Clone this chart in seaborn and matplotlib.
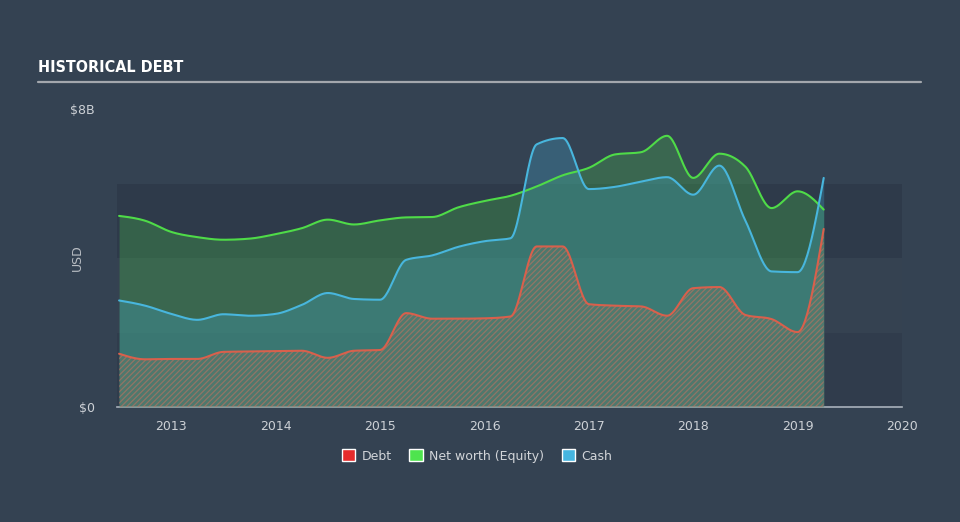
import numpy as np
import pandas as pd
import matplotlib
matplotlib.use("Agg")
import matplotlib.pyplot as plt
from matplotlib.patches import Patch
import seaborn as sns

# ---- data (USD billions), quarterly ----
dates = [2012.5, 2012.75, 2013.0, 2013.25, 2013.5, 2013.75, 2014.0, 2014.25,
         2014.5, 2014.75, 2015.0, 2015.25, 2015.5, 2015.75, 2016.0, 2016.25,
         2016.5, 2016.75, 2017.0, 2017.25, 2017.5, 2017.75, 2018.0, 2018.25,
         2018.5, 2018.75, 2019.0, 2019.25]
debt = [1.43, 1.28, 1.29, 1.29, 1.48, 1.49, 1.50, 1.51,
        1.32, 1.51, 1.53, 2.52, 2.37, 2.37, 2.38, 2.43,
        4.31, 4.31, 2.76, 2.72, 2.70, 2.45, 3.19, 3.22,
        2.47, 2.36, 2.01, 4.78]
equity = [5.13, 5.00, 4.70, 4.56, 4.49, 4.52, 4.64, 4.80,
          5.03, 4.90, 5.01, 5.09, 5.10, 5.36, 5.53, 5.67,
          5.92, 6.22, 6.42, 6.78, 6.84, 7.28, 6.15, 6.80,
          6.45, 5.34, 5.79, 5.30]
cash = [2.86, 2.72, 2.50, 2.34, 2.49, 2.45, 2.50, 2.74,
        3.06, 2.90, 2.88, 3.95, 4.07, 4.30, 4.45, 4.53,
        7.05, 7.22, 5.85, 5.91, 6.05, 6.17, 5.70, 6.48,
        5.00, 3.64, 3.62, 6.15]
year_ticks = [2013, 2014, 2015, 2016, 2017, 2018, 2019, 2020]
y_labels = {0: "$0", 8: "$8B"}
series_names = ["Debt", "Net worth (Equity)", "Cash"]


def monotone(x, y, n=24):
    """Monotone cubic (d3 curveMonotoneX style) rendering of a polyline."""
    x = np.asarray(x, float)
    y = np.asarray(y, float)
    h = np.diff(x)
    s = np.diff(y) / h
    m = np.zeros_like(y)
    for i in range(1, len(y) - 1):
        s0, s1, h0, h1 = s[i - 1], s[i], h[i - 1], h[i]
        p = (s0 * h1 + s1 * h0) / (h0 + h1)
        m[i] = (np.sign(s0) + np.sign(s1)) * min(abs(s0), abs(s1), 0.5 * abs(p))
    m[0] = (3 * s[0] - m[1]) / 2
    m[-1] = (3 * s[-1] - m[-2]) / 2
    xs, ys = [], []
    for i in range(len(h)):
        t = np.linspace(0, 1, n, endpoint=False)
        h00 = 2 * t**3 - 3 * t**2 + 1
        h10 = t**3 - 2 * t**2 + t
        h01 = -2 * t**3 + 3 * t**2
        h11 = t**3 - t**2
        xs.append(x[i] + t * h[i])
        ys.append(h00 * y[i] + h10 * h[i] * m[i] + h01 * y[i + 1] + h11 * h[i] * m[i + 1])
    xs.append([x[-1]])
    ys.append([y[-1]])
    return np.concatenate(xs), np.concatenate(ys)


BG = "#344252"
sns.set_theme(style="dark")
plt.rcParams["font.family"] = ["DejaVu Sans"]
plt.rcParams["hatch.linewidth"] = 0.9

fig = plt.figure(figsize=(9.6, 5.22), dpi=100, facecolor=BG)
ax = fig.add_axes([117 / 960, 1 - 407 / 522, (902 - 117) / 960, (407 - 109) / 522])
ax.set_facecolor(BG)

# background bands
band_cols = ["#303c4c", "#354251", "#2e3a4a"]
for i, c in enumerate(band_cols):
    ax.axhspan(2 * i, 2 * i + 2, color=c, zorder=0, lw=0)

curves = {}
for name, vals in zip(series_names, [debt, equity, cash]):
    curves[name] = monotone(dates, vals)

# fills
xe, ye = curves["Net worth (Equity)"]
ax.fill_between(xe, 0, ye, color="#4cd44c", alpha=0.26, lw=0, zorder=1)
xc, yc = curves["Cash"]
ax.fill_between(xc, 0, yc, color="#45b3e0", alpha=0.26, lw=0, zorder=2)
xd, yd = curves["Debt"]
ax.fill_between(xd, 0, yd, facecolor="#5f7a6a", alpha=0.55, lw=0, zorder=3)
ax.fill_between(xd, 0, yd, facecolor="none", edgecolor="#c0725f", hatch="//////",
                lw=0, zorder=3, alpha=0.6)

df = pd.concat([pd.DataFrame({"year": curves[n][0], "value": curves[n][1], "series": n})
                for n in series_names], ignore_index=True)
palette = {"Debt": "#d9604c", "Net worth (Equity)": "#4fdb48", "Cash": "#48b6dd"}
sns.lineplot(data=df, x="year", y="value", hue="series", palette=palette,
             hue_order=["Net worth (Equity)", "Cash", "Debt"], linewidth=1.5,
             ax=ax, legend=False, zorder=5, sort=False, estimator=None)

ax.set_xlim(2012.48, 2020.0)
ax.set_ylim(0, 8)
ax.set_xticks(year_ticks)
ax.set_xticklabels([str(y) for y in year_ticks], color="#cdd1d6", fontsize=9)
ax.set_yticks(list(y_labels.keys()))
ax.set_yticklabels(list(y_labels.values()), color="#cdd1d6", fontsize=9)
ax.tick_params(axis="x", length=6, width=1, color="#a9b1bb", direction="out", pad=3)
ax.tick_params(axis="y", length=0, pad=16)
ax.set_xlabel("")
ax.set_ylabel("USD", color="#b9bec4", fontsize=9)
ax.yaxis.set_label_coords(-33 / 785, 0.5)
ax.grid(False)
for sp in ["top", "right", "left"]:
    ax.spines[sp].set_visible(False)
ax.spines["bottom"].set_color("#a9b1bb")
ax.spines["bottom"].set_linewidth(1.2)

# title and rule
fig.text(38 / 960, 1 - 68 / 522, "HISTORICAL DEBT", color="white", fontsize=11.5,
         fontweight="bold", fontstretch="condensed", family="DejaVu Sans",
         va="center", ha="left")
fig.add_artist(plt.Line2D([38 / 960, 921 / 960], [1 - 82 / 522, 1 - 82 / 522],
                          color="#a3a7ad", lw=1.6))

handles = [Patch(facecolor="#e62b2b", label="Debt"),
           Patch(facecolor="#4ee44e", label="Net worth (Equity)"),
           Patch(facecolor="#45b5e0", label="Cash")]
leg = fig.legend(handles=handles, loc="center", bbox_to_anchor=(477 / 960, 1 - 456 / 522),
                 ncol=3, frameon=False, fontsize=9, handlelength=1.1, handleheight=1.1,
                 handletextpad=0.5, columnspacing=1.4)
for t in leg.get_texts():
    t.set_color("#d2d5d9")

fig.savefig("out.png", dpi=100, facecolor=BG)
